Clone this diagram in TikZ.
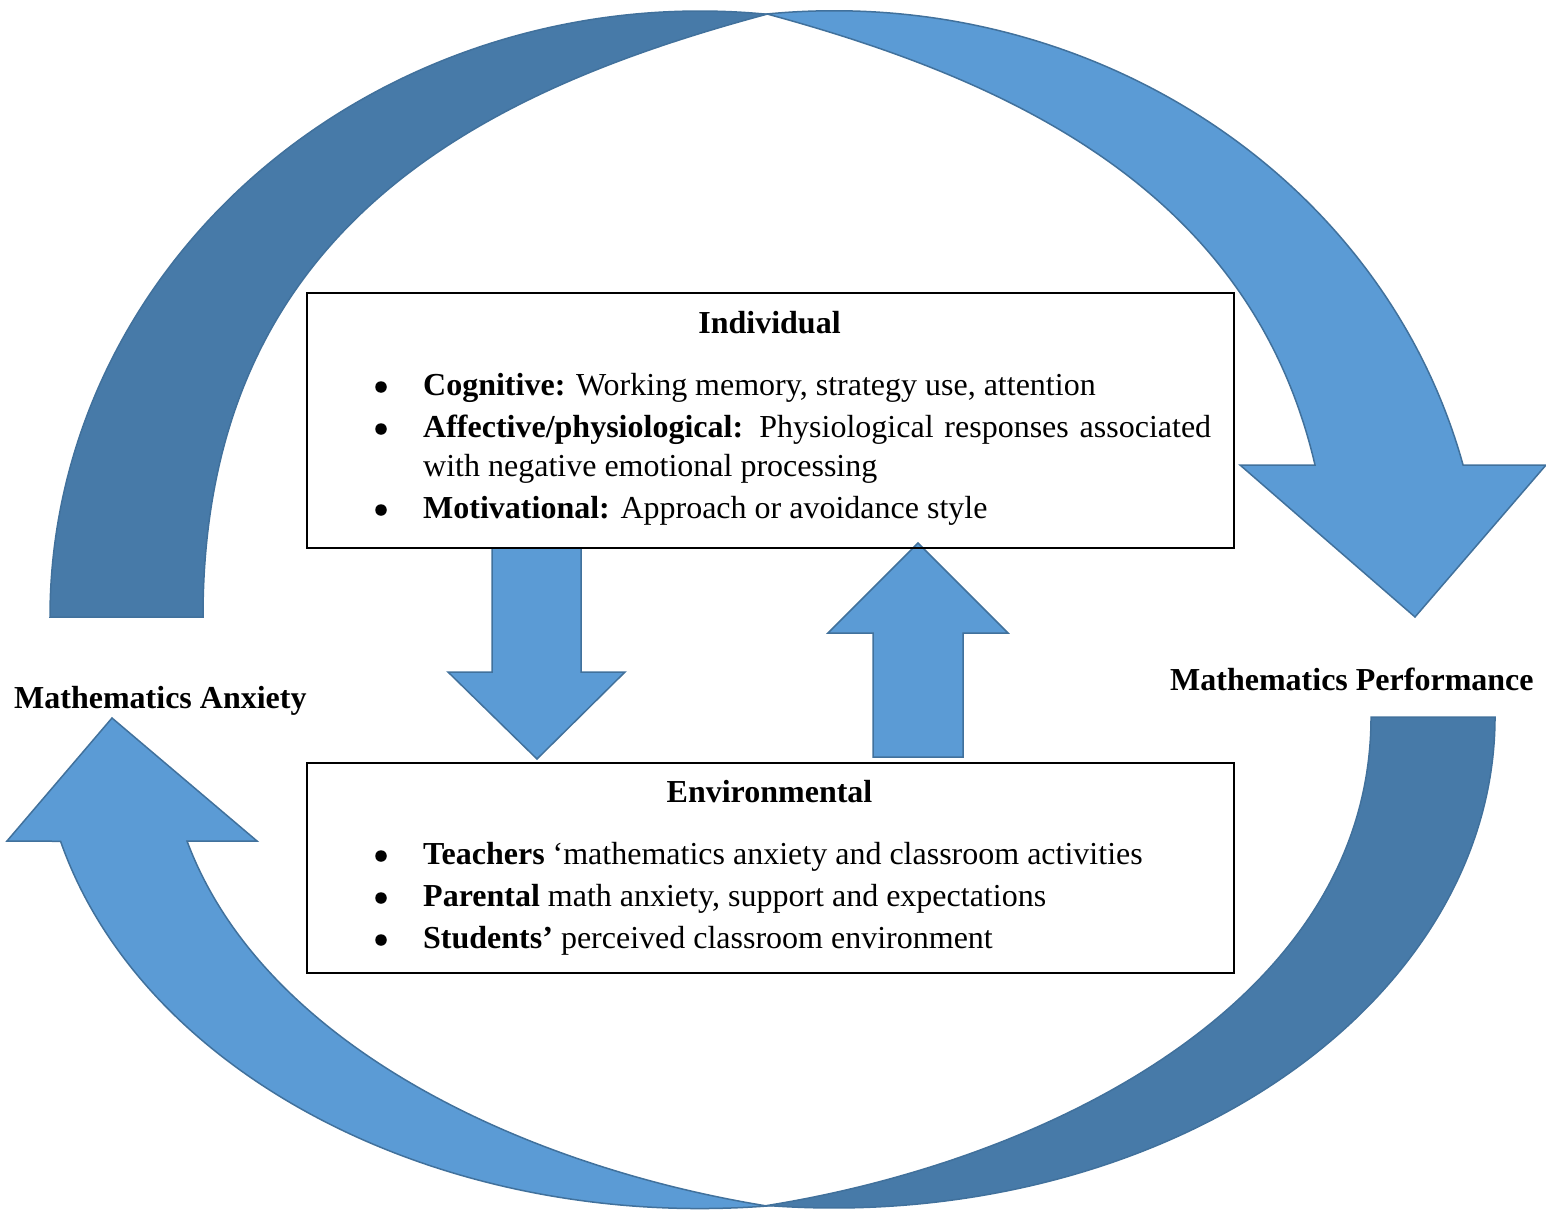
\documentclass[tikz,border=0pt]{standalone}
\usepackage{fontspec}
\setmainfont{Liberation Serif}
\definecolor{lightblue}{RGB}{91,155,213}
\definecolor{darkblue}{RGB}{71,122,168}
\definecolor{edgeblue}{RGB}{65,113,156}
\begin{document}
\begin{tikzpicture}[x=1pt,y=-1pt,
  band/.style={draw=edgeblue, line width=1.5pt, line join=miter},
  lightband/.style={band, fill=lightblue},
  darkband/.style={band, fill=darkblue},
  boxframe/.style={draw=black, line width=1.8pt, inner sep=0pt, anchor=north west},
  txt/.style={inner sep=0pt, anchor=base west, font=\fontsize{32pt}{41pt}\selectfont},
  ttl/.style={inner sep=0pt, anchor=base, font=\fontsize{32pt}{41pt}\selectfont\bfseries},
  bul/.style={circle, fill=black, inner sep=0pt, minimum size=11.5pt},
  lbl/.style={inner sep=0pt, anchor=base west, font=\fontsize{32pt}{41pt}\selectfont\bfseries},
]
\useasboundingbox (0,0) rectangle (1546,1209);

% ---- top curved arrow (back part, dark) ----
\draw[darkband] (50,617) arc[start angle=180, end angle=275.9, x radius=650, y radius=606]
  .. controls (485,90) and (203,225) .. (203,617) -- cycle;
% ---- top curved arrow (front part, light) ----
\draw[lightband] (767,14) arc[start angle=264.1, end angle=345.5, x radius=650, y radius=606]
  -- (1546,465) -- (1415,617) -- (1240,465) -- (1315,465)
  .. controls (1251,190) and (1010,80) .. (767,14) -- cycle;

% ---- bottom curved arrow (back part, dark) ----
\draw[darkband] (1495,717) arc[start angle=0, end angle=95.8, x radius=661, y radius=491]
  .. controls (1050,1160) and (1371,1000) .. (1371,717) -- cycle;
% ---- bottom curved arrow (front part, light) ----
\draw[lightband] (767,1206) arc[start angle=84.2, end angle=165.4, x radius=661, y radius=491]
  -- (7,841) -- (112,718) -- (257,841) -- (187,841)
  .. controls (264,1047.4) and (528.4,1167.2) .. (767,1206) -- cycle;

% ---- straight block arrows ----
\draw[lightband] (492,548) -- (581,548) -- (581,672) -- (625,672) -- (537,759) -- (448,672) -- (492,672) -- cycle;
\draw[lightband] (873,757) -- (873,633) -- (828,633) -- (918,543) -- (1008,633) -- (963,633) -- (963,757) -- cycle;

% ---- boxes ----
\node[boxframe, minimum width=927pt, minimum height=255pt] (indiv) at (306,292) {};
\node[boxframe, minimum width=927pt, minimum height=210pt] (envir) at (306,762) {};

% ---- Individual box text ----
\node[ttl] (indivtitle) at (769.5,333) {Individual};
\node[bul] (b1) at (381,387) {};
\node[txt] (t1) at (423,395) {\textbf{Cognitive:} Working memory, strategy use, attention};
\node[bul] (b2) at (381,429) {};
\node[txt] (t2) at (423,437) {\makebox[788pt][s]{\textbf{Affective/physiological:} Physiological responses associated}};
\node[txt] (t2b) at (423,476) {with negative emotional processing};
\node[bul] (b3) at (381,510) {};
\node[txt] (t3) at (423,518) {\textbf{Motivational:} Approach or avoidance style};

% ---- Environmental box text ----
\node[ttl] (envtitle) at (769.5,802) {Environmental};
\node[bul] (b4) at (381,856) {};
\node[txt] (t4) at (423,864) {\textbf{Teachers} ‘mathematics anxiety and classroom activities};
\node[bul] (b5) at (381,898) {};
\node[txt] (t5) at (423,906) {\textbf{Parental} math anxiety, support and expectations};
\node[bul] (b6) at (381,940) {};
\node[txt] (t6) at (423,948) {\textbf{Students’} perceived classroom environment};

% ---- side labels ----
\node[lbl] (anx) at (14,708) {Mathematics Anxiety};
\node[lbl] (perf) at (1170,690) {Mathematics Performance};
\end{tikzpicture}
\end{document}
